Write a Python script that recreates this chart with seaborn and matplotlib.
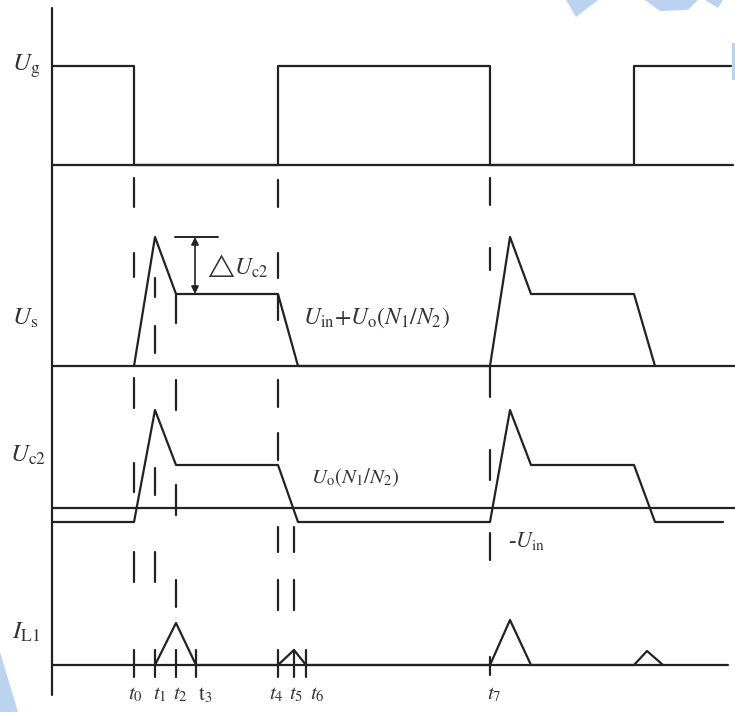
import matplotlib
matplotlib.use('Agg')
import matplotlib.pyplot as plt
import seaborn as sns
import pandas as pd

sns.set_theme(style='white')
plt.rcParams['font.family'] = ['Liberation Serif', 'DejaVu Serif']
plt.rcParams['mathtext.fontset'] = 'stix'

INK = '#222222'
TXT = '#333333'

# switching instants t0..t7 (time axis, drawing units)
t_marks = [134, 155, 176, 196, 278, 294, 306, 490]
t_labels = [r'$t_0$', r'$t_1$', r'$t_2$', r'$\mathrm{t}_3$',
            r'$t_4$', r'$t_5$', r'$t_6$', r'$t_7$']

# gate signal U_g
ug_t = [52, 134, 134, 278, 278, 490, 490, 634, 634, 731]
ug_v = [99, 99, 0, 0, 99, 99, 0, 0, 99, 99]

# switch voltage U_s
us_t = [134, 155, 176, 278, 298, 490, 510, 531, 634, 655]
us_v = [0, 129, 72, 72, 0, 0, 129, 72, 72, 0]

# clamp capacitor voltage U_c2 (negative part = -U_in)
uc_t = [52, 134, 155, 176, 278, 298, 490, 510, 531, 634, 655, 723]
uc_v = [-14, -14, 98, 43, 43, -14, -14, 98, 43, 43, -14, -14]

# inductor current I_L1
il_t = [155, 176, 196, 278, 294, 306, 490, 510, 531, 634, 647, 663]
il_v = [0, 42, 0, 0, 15, 0, 0, 45, 0, 0, 14, 0]

# dashed marker pieces for each instant (top, bottom)
dash_pieces = {
    0: [(178, 207), (253, 277), (378, 408), (463, 492), (552, 582), (650, 677)],
    1: [(278, 297), (326, 353), (468, 495), (552, 582), (650, 677)],
    2: [(295, 323), (380, 410), (485, 515), (580, 607), (650, 677)],
    3: [(650, 677)],
    4: [(180, 207), (253, 278), (295, 320), (380, 407), (433, 460),
        (527, 552), (580, 610), (650, 677)],
    5: [(527, 552), (580, 610), (650, 677)],
    6: [(650, 677)],
    7: [(178, 205), (248, 270), (367, 397), (450, 480), (533, 560), (657, 675)],
}

# channel baselines (vertical layout)
base = {'ug': 165, 'us': 366, 'uc': 508, 'il': 665}
# label nudges for the time names
label_dx = [1, 5, 4, 9, -2, 2, 11, 4]

fig = plt.figure(figsize=(7.35, 7.12), dpi=100)
ax = fig.add_axes([0, 0, 1, 1])

# faint watermark pieces
wm = '#bcd3f0'
for poly in [[(566, 0), (598, 0), (576, 17)],
             [(645, 0), (698, 0), (688, 10), (660, 11)],
             [(705, 0), (723, 0), (718, 8)],
             [(732, 43), (735, 43), (735, 80), (732, 80)],
             [(0, 652), (0, 712), (18, 712)]]:
    xs, ys = zip(*poly)
    ax.fill(xs, ys, color=wm, lw=0, zorder=0)

# vertical axis
ax.plot([52, 52], [8, 695], color=INK, lw=1.6)

# baselines
ax.plot([52, 733], [base['ug']] * 2, color=INK, lw=1.6)
ax.plot([52, 735], [base['us']] * 2, color=INK, lw=1.6)
ax.plot([52, 735], [base['uc']] * 2, color=INK, lw=1.6)
ax.plot([52, 728], [base['il']] * 2, color=INK, lw=1.6)

# waveforms
waves = [(ug_t, ug_v, 'ug'), (us_t, us_v, 'us'), (uc_t, uc_v, 'uc'), (il_t, il_v, 'il')]
for tt, vv, key in waves:
    df = pd.DataFrame({'t': tt, 'y': [base[key] - v for v in vv]})
    sns.lineplot(data=df, x='t', y='y', sort=False, estimator=None,
                 color=INK, lw=1.6, ax=ax)

# dashed instant markers
for i, pieces in dash_pieces.items():
    for y0, y1 in pieces:
        ax.plot([t_marks[i]] * 2, [y0, y1], color=INK, lw=1.6)

# delta U_c2 dimension
peak_y = base['us'] - max(us_v)
plat_y = base['us'] - us_v[2]
ax.plot([175, 218], [peak_y, peak_y], color=INK, lw=1.4)
ax.annotate('', xy=(195, peak_y), xytext=(195, plat_y),
            arrowprops=dict(arrowstyle='<|-|>', color=INK, lw=1.2,
                            mutation_scale=11, shrinkA=0, shrinkB=0))
ax.text(207, 266, r'$\bigtriangleup U_{\mathrm{c2}}$', fontsize=17,
        va='center', ha='left', color=TXT)

# channel labels
ax.text(26, 66, r'$U_{\mathrm{g}}$', fontsize=18, ha='center', va='center', color=TXT)
ax.text(25, 318, r'$U_{\mathrm{s}}$', fontsize=18, ha='center', va='center', color=TXT)
ax.text(28, 455, r'$U_{\mathrm{c2}}$', fontsize=18, ha='center', va='center', color=TXT)
ax.text(26, 632, r'$I_{\mathrm{L1}}$', fontsize=18, ha='center', va='center', color=TXT)

# level annotations
ax.text(303, 318, r'$U_{\mathrm{in}}{+}U_{\mathrm{o}}(N_1/N_2)$', fontsize=17,
        ha='left', va='center', color=TXT)
ax.text(311, 478, r'$U_{\mathrm{o}}(N_1/N_2)$', fontsize=15,
        ha='left', va='center', color=TXT)
ax.text(508, 541, r'-$U_{\mathrm{in}}$', fontsize=16,
        ha='left', va='center', color=TXT)

# time labels
for tm, lab, dx in zip(t_marks, t_labels, label_dx):
    ax.text(tm + dx, 695, lab, fontsize=15, ha='center', va='center', color=TXT)

ax.set_xlim(0, 735)
ax.set_ylim(712, 0)
ax.axis('off')

fig.savefig('out.png', dpi=100)
